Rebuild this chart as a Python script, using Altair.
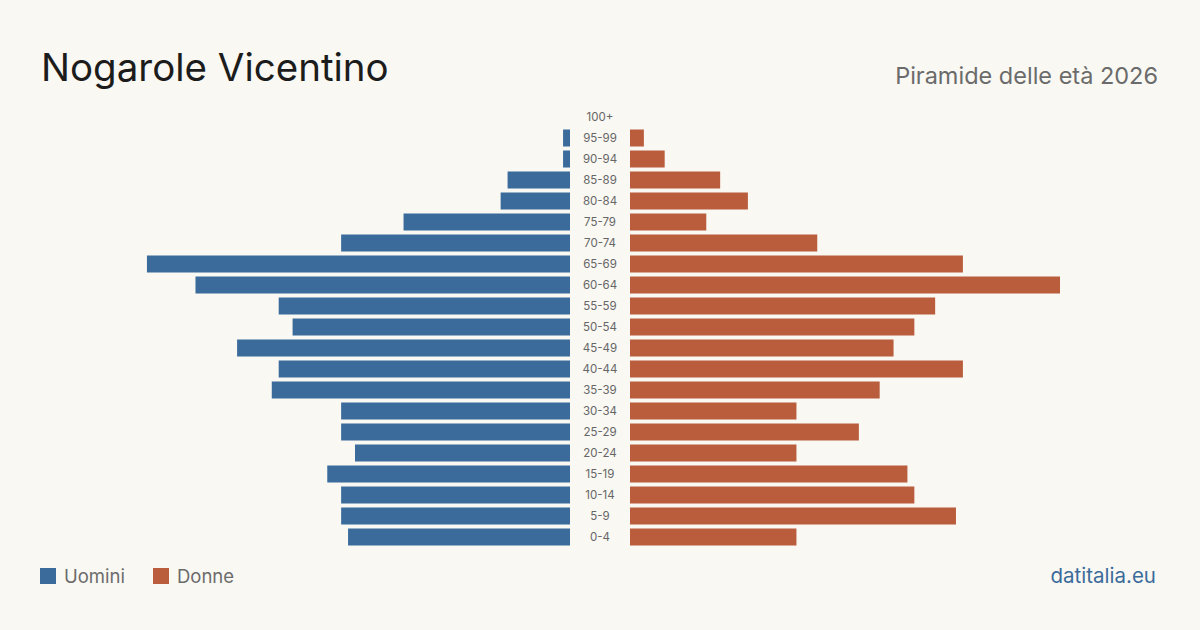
import altair as alt
import pandas as pd

ages = ["100+", "95-99", "90-94", "85-89", "80-84", "75-79", "70-74", "65-69", "60-64",
        "55-59", "50-54", "45-49", "40-44", "35-39", "30-34", "25-29", "20-24",
        "15-19", "10-14", "5-9", "0-4"]
uomini = [0, 1, 1, 9, 10, 24, 33, 61, 54, 42, 40, 48, 42, 43, 33, 33, 31, 35, 33, 33, 32]
donne = [0, 2, 5, 13, 17, 11, 27, 48, 62, 44, 41, 38, 48, 36, 24, 33, 24, 40, 41, 47, 24]

BLUE = "#3b6b9b"
ORANGE = "#b95d3c"
BG = "#f9f8f3"
FONT = "Inter"

df = pd.DataFrame({"age": ages, "uomini": uomini, "donne": donne})

yscale = alt.Scale(domain=ages, range=[106.5, 547.5], paddingInner=0.19, paddingOuter=0.095)
Y = alt.Y("age:N", sort=ages, scale=yscale, axis=None)

base = alt.Chart(df)

left = base.mark_bar(color=BLUE).encode(
    y=Y,
    x=alt.X("uomini:Q", scale=alt.Scale(domain=[0, 62], range=[570, 140]), axis=None),
    tooltip=["age", "uomini"],
)
right = base.mark_bar(color=ORANGE).encode(
    y=Y,
    x=alt.X("donne:Q", scale=alt.Scale(domain=[0, 62], range=[630, 1060]), axis=None),
    tooltip=["age", "donne"],
)
labels = base.mark_text(font=FONT, fontSize=11.5, color="#666666",
                        align="center", baseline="middle", dy=1).encode(
    y=Y,
    x=alt.value(600),
    text="age:N",
)

def txt(s, x, y, size, color, align="left"):
    return alt.Chart(pd.DataFrame({"t": [s]})).mark_text(
        font=FONT, fontSize=size, color=color, align=align, baseline="alphabetic"
    ).encode(x=alt.value(x), y=alt.value(y), text="t:N")

def square(x, y, color):
    return alt.Chart(pd.DataFrame({"a": [0]})).mark_rect(color=color).encode(
        x=alt.value(x), x2=alt.value(x + 16), y=alt.value(y), y2=alt.value(y + 16)
    )

title = txt("Nogarole Vicentino", 41, 81, 38.5, "#1c1c1c")
subtitle = txt("Piramide delle età 2026", 1158, 84, 23.5, "#6b6b6b", align="right")
leg1 = square(40, 568, BLUE)
leg1t = txt("Uomini", 64, 583, 18.5, "#6b6b6b")
leg2 = square(153, 568, ORANGE)
leg2t = txt("Donne", 177, 583, 18.5, "#6b6b6b")
brand = txt("datitalia.eu", 1156, 583, 20.5, BLUE, align="right")

chart = alt.layer(
    left, right, labels, title, subtitle, leg1, leg1t, leg2, leg2t, brand
).resolve_scale(x="independent").properties(
    width=1200, height=630, padding=0, autosize=alt.AutoSizeParams(type="none"),
    background=BG,
).configure_view(stroke=None)

chart.save("out.html", embed_options={"renderer": "svg", "actions": False})
